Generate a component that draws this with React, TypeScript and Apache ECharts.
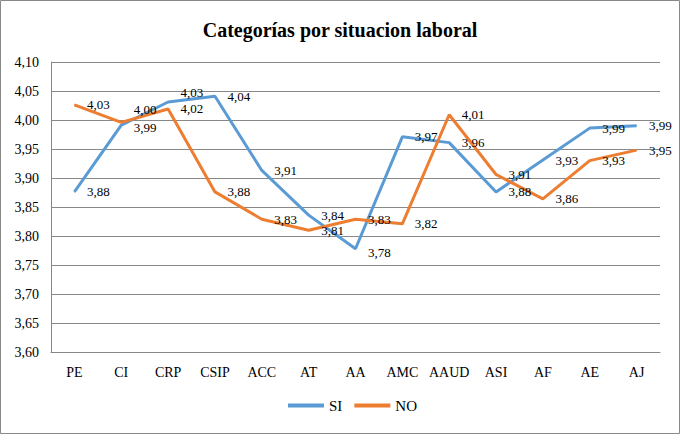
import React, { useEffect, useRef } from "react";
import * as echarts from "echarts";

const categories = ["PE", "CI", "CRP", "CSIP", "ACC", "AT", "AA", "AMC", "AAUD", "ASI", "AF", "AE", "AJ"];
const siValues = [3.876, 3.991, 4.031, 4.041, 3.913, 3.836, 3.778, 3.971, 3.961, 3.876, 3.931, 3.986, 3.99];
const noValues = [4.026, 3.996, 4.019, 3.876, 3.829, 3.81, 3.829, 3.821, 4.009, 3.906, 3.864, 3.93, 3.948];
const siLabelShift: Record<number, number> = { 1: 2, 2: -10, 6: 4 };
const noLabelShift: Record<number, number> = { 1: -13 };

const fmt = (v: number) => v.toFixed(2).replace(".", ",");
const FONT = "'Liberation Serif', 'Times New Roman', serif";

function buildData(values: number[], shift: Record<number, number>) {
  return values.map((v, i) => ({
    value: v,
    label: shift[i] !== undefined ? { offset: [0, shift[i]] } : undefined,
  }));
}

export default function App() {
  const ref = useRef<HTMLDivElement>(null);
  useEffect(() => {
    if (!ref.current) return;
    const chart = echarts.init(ref.current, null, { renderer: "svg" });
    const labelCfg = {
      show: true,
      position: "right",
      distance: 12,
      fontFamily: FONT,
      fontSize: 13,
      color: "#000",
      formatter: (p: any) => fmt(p.value),
    };
    chart.setOption({
      animation: false,
      backgroundColor: "#fff",
      title: {
        text: "Categorías por situacion laboral",
        left: "center",
        top: 15,
        textStyle: { fontFamily: FONT, fontSize: 20, fontWeight: "bold", color: "#000" },
      },
      graphic: [
        {
          type: "rect",
          shape: { x: 0.5, y: 0.5, width: 679, height: 433 },
          style: { fill: "none", stroke: "#888", lineWidth: 1 },
          silent: true,
        },
      ],
      legend: {
        bottom: 16,
        left: 283,
        itemWidth: 36,
        itemHeight: 4,
        itemGap: 12,
        textStyle: { fontFamily: FONT, fontSize: 15, color: "#000" },
        data: [
          { name: "SI", icon: "rect" },
          { name: "NO", icon: "rect" },
        ],
      },
      grid: { left: 51, right: 20, top: 62, bottom: 82 },
      xAxis: {
        type: "category",
        data: categories,
        boundaryGap: true,
        axisLine: { lineStyle: { color: "#888" } },
        axisTick: { show: false },
        axisLabel: { interval: 0, fontFamily: FONT, fontSize: 14, color: "#000", margin: 13 },
      },
      yAxis: {
        type: "value",
        min: 3.6,
        max: 4.1,
        interval: 0.05,
        axisLine: { show: true, lineStyle: { color: "#888" } },
        axisTick: { show: false },
        splitLine: { lineStyle: { color: "#888", width: 1 } },
        axisLabel: {
          fontFamily: FONT,
          fontSize: 14,
          color: "#000",
          margin: 12,
          formatter: (v: number) => fmt(v),
        },
      },
      series: [
        {
          name: "SI",
          type: "line",
          data: buildData(siValues, siLabelShift),
          symbol: "circle",
          symbolSize: 1,
          showSymbol: true,
          lineStyle: { color: "#5B9BD5", width: 3 },
          itemStyle: { color: "#5B9BD5" },
          label: labelCfg,
        },
        {
          name: "NO",
          type: "line",
          data: buildData(noValues, noLabelShift),
          symbol: "circle",
          symbolSize: 1,
          showSymbol: true,
          lineStyle: { color: "#ED7D31", width: 3 },
          itemStyle: { color: "#ED7D31" },
          label: labelCfg,
        },
      ],
    });
    return () => chart.dispose();
  }, []);
  return (
    <div
      ref={ref}
      style={{ position: "absolute", left: 0, top: 0, width: 680, height: 434 }}
    />
  );
}
